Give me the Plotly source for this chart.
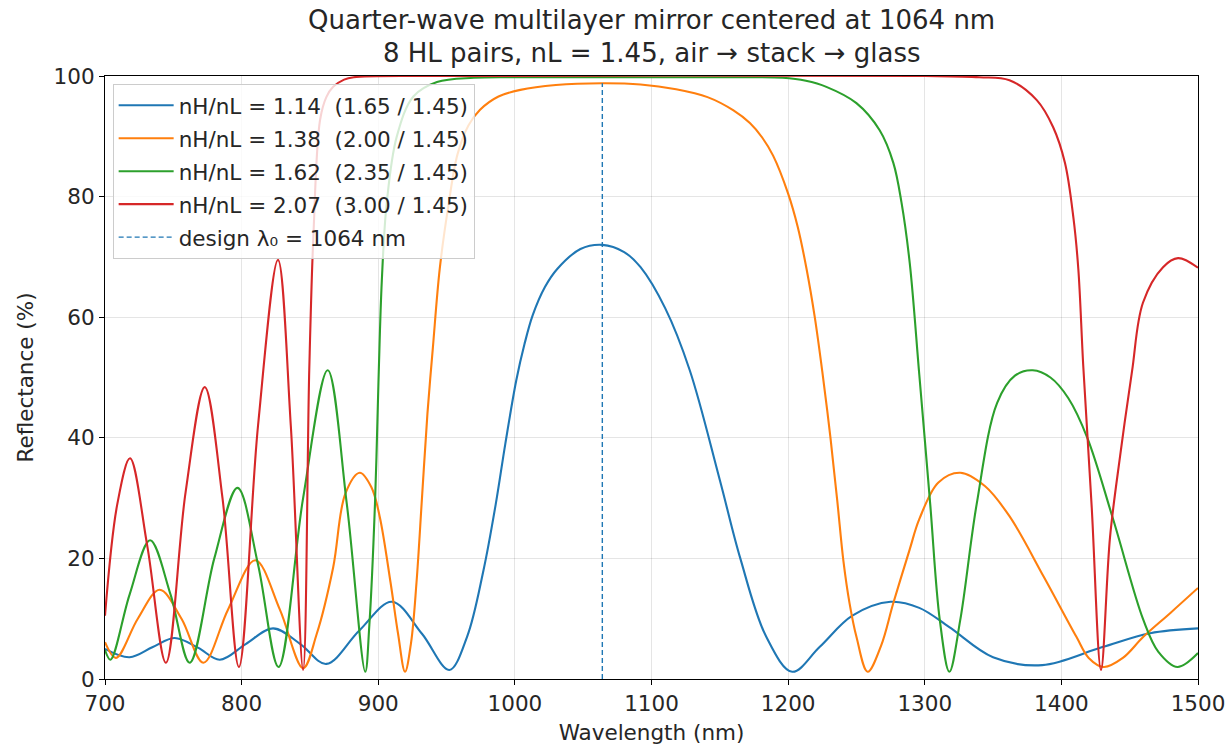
import plotly.graph_objects as go

# ---- data ----
blue_wl = [700, 718, 735, 751, 768, 784, 803, 823, 843, 862, 886, 910, 932, 952, 965, 977, 986, 993,
           1001, 1007, 1013, 1022, 1031, 1048, 1064, 1080, 1092, 1110, 1128, 1150, 1165, 1184, 1203,
           1223, 1247, 1275, 1296, 1318, 1350, 1386, 1430, 1465, 1500]
blue_r = [5.0, 3.6, 5.3, 6.8, 5.2, 3.2, 5.8, 8.4, 5.8, 2.5, 8.0, 12.8, 7.5, 1.5, 7.0, 18.0, 29.0, 39.0,
          49.5, 55.5, 60.3, 65.0, 68.0, 71.3, 72.0, 70.8, 68.3, 61.5, 51.2, 33.0, 20.0, 7.0, 1.2,
          5.3, 10.5, 12.8, 11.8, 8.6, 3.6, 2.3, 5.3, 7.6, 8.4]

orange_wl = [700, 708, 724, 740, 756, 772, 790, 810, 828, 845, 855, 867, 876, 886.5, 895, 901, 909,
             914.5, 919.6, 924, 928, 932, 936, 940, 945, 951, 958, 966, 974.5, 988, 1004, 1030, 1064,
             1092, 1118, 1141, 1160, 1172, 1181, 1189, 1200, 1207, 1213.5, 1219.5, 1225, 1231, 1236,
             1240.5, 1245, 1250, 1258.2, 1268, 1277, 1289, 1296, 1310, 1326, 1344, 1362, 1387, 1411,
             1420, 1431, 1445, 1460, 1480, 1500]
orange_r = [6.1, 3.5, 10.0, 14.8, 10.0, 2.7, 11.5, 19.7, 11.5, 1.8, 7.5, 18.5, 30.8, 34.2, 31.8, 27.0,
            16.0, 7.5, 1.2, 6.0, 16.0, 30.0, 44.0, 55.0, 68.0, 78.0, 87.0, 91.8, 94.4, 96.6, 97.7,
            98.5, 98.8, 98.6, 97.8, 96.5, 94.3, 92.2, 89.8, 86.8, 80.5, 75.0, 68.0, 60.0, 51.0, 40.0,
            29.5, 19.5, 12.5, 7.0, 1.2, 5.5, 12.6, 21.5, 26.5, 32.6, 34.2, 32.0, 27.0, 17.0, 7.0,
            3.5, 2.0, 3.5, 7.0, 11.0, 15.1]

green_wl = [700, 704, 718, 733, 748, 762, 780, 797, 812, 827, 845, 863, 877, 890.5, 893.5, 897.6,
            900.2, 902.6, 906.2, 913.5, 925.7, 943, 970, 1000, 1100, 1170, 1196, 1213, 1228, 1250,
            1267, 1277, 1283, 1289, 1296, 1304, 1311, 1318, 1326, 1338, 1353, 1366, 1379, 1392, 1405,
            1419, 1438, 1460, 1471, 1485, 1500]
green_r = [4.8, 3.2, 14.0, 23.0, 14.0, 2.7, 20.0, 31.7, 19.0, 2.0, 30.0, 51.2, 29.0, 1.2, 9.0, 29.0,
           49.6, 66.0, 78.9, 89.9, 96.6, 99.0, 99.7, 99.8, 99.8, 99.8, 99.7, 99.2, 98.2, 95.5, 91.0,
           85.6, 79.0, 69.0, 50.5, 29.0, 9.8, 1.2, 9.8, 29.0, 45.8, 50.3, 51.2, 50.0, 46.6,
           40.0, 26.4, 9.8, 4.5, 2.0, 4.3]

red_wl = [700, 709, 718.3, 731, 744.6, 759, 773, 786, 798, 812, 826.6, 836, 845, 849.5, 852.5, 857.4,
          862, 867, 875, 882, 950, 1300, 1340, 1362, 1382, 1394, 1402.6, 1408.8, 1412.4, 1416, 1422.2,
          1429, 1435.6, 1443, 1451.7, 1459.7, 1474.4, 1485.4, 1500]
red_r = [10.5, 29.0, 36.6, 22.0, 2.7, 31.0, 48.4, 30.0, 2.0, 42.0, 69.5, 42.0, 1.5, 51.2, 73.3, 92.7,
         96.5, 98.2, 99.4, 99.8, 100.0, 100.0, 99.8, 99.3, 96.0, 91.5, 85.6, 76.5, 68.0, 52.0, 28.5,
         1.5, 23.5, 37.0, 51.0, 62.4, 68.3, 69.8, 68.2]

design_wl = [1064, 1064]
design_r = [0, 98.8]

names = ["nH/nL = 1.14\u00a0 (1.65 / 1.45)",
         "nH/nL = 1.38\u00a0 (2.00 / 1.45)",
         "nH/nL = 1.62\u00a0 (2.35 / 1.45)",
         "nH/nL = 2.07\u00a0 (3.00 / 1.45)"]
colors = ["#1f77b4", "#ff7f0e", "#2ca02c", "#d62728"]
series = [(blue_wl, blue_r), (orange_wl, orange_r), (green_wl, green_r), (red_wl, red_r)]
title_lines = ["Quarter-wave multilayer mirror centered at 1064 nm",
               "8 HL pairs, nL = 1.45, air \u2192 stack \u2192 glass"]

FONT = "DejaVu Sans"
TXT = "#262626"
FS = 21.5
fig = go.Figure()
for i, ((x, y), name, c) in enumerate(zip(series, names, colors)):
    fig.add_trace(go.Scatter(x=x, y=y, mode="lines", name=name, legendgroup=f"g{i}",
                             line=dict(color=c, width=2.1, shape="spline", smoothing=1.0)))
fig.add_trace(go.Scatter(x=design_wl, y=design_r, mode="lines", name="design \u03bb\u2080 = 1064 nm",
                         legendgroup="g5", line=dict(color="#1f77b4", width=1.4, dash="5px,3px")))

axis_common = dict(showline=True, linecolor="black", linewidth=1.2, mirror=True,
                   ticks="outside", ticklen=5, tickcolor="black", automargin=False,
                   showgrid=True, gridcolor="rgba(0,0,0,0.1)", gridwidth=1,
                   zeroline=False, tickfont=dict(family=FONT, size=FS, color=TXT))
fig.update_xaxes(range=[700, 1500], dtick=100, tick0=700,
                 title=dict(text="Wavelength (nm)", font=dict(family=FONT, size=FS, color=TXT), standoff=10),
                 **axis_common)
fig.update_yaxes(range=[0, 100], dtick=20,
                 title=dict(text="Reflectance (%)", font=dict(family=FONT, size=FS, color=TXT), standoff=14),
                 **axis_common)
fig.update_layout(
    width=1228, height=750,
    margin=dict(l=105, r=30, t=76, b=71),
    paper_bgcolor="white", plot_bgcolor="white",
    legend=dict(x=0.007, y=0.987, xanchor="left", yanchor="top",
                bgcolor="rgba(255,255,255,0.8)", bordercolor="#cccccc", borderwidth=1,
                font=dict(family=FONT, size=FS, color=TXT), tracegroupgap=2,
                itemwidth=55),
    showlegend=True,
)
fig.add_annotation(text=title_lines[0], xref="paper", yref="paper", x=0.5, y=1, xanchor="center",
                   yanchor="middle", yshift=56, showarrow=False, font=dict(family=FONT, size=26, color=TXT))
fig.add_annotation(text=title_lines[1], xref="paper", yref="paper", x=0.5, y=1, xanchor="center",
                   yanchor="middle", yshift=23, showarrow=False, font=dict(family=FONT, size=26, color=TXT))
fig.write_html("out.html")
